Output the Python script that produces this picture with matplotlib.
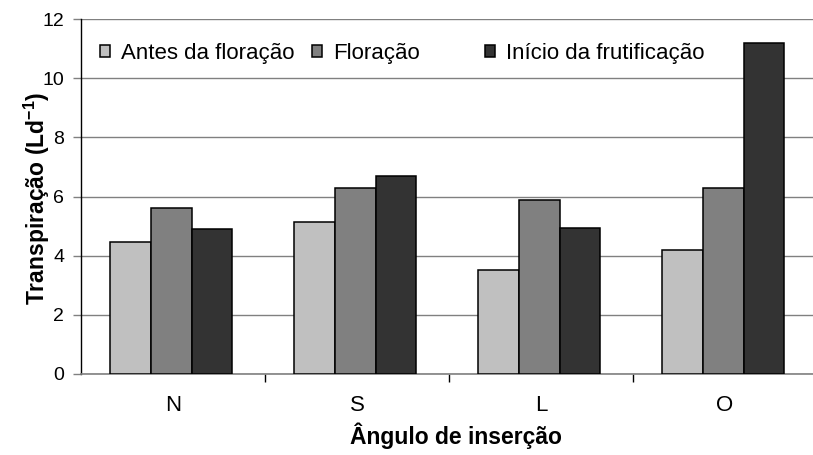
import matplotlib
matplotlib.use("Agg")
import matplotlib.pyplot as plt
import numpy as np
from matplotlib.ticker import FixedLocator, NullFormatter
from matplotlib.patches import Patch
from matplotlib.legend import Legend

plt.rcParams['font.family'] = ['Liberation Sans', 'DejaVu Sans']
plt.rcParams['mathtext.fontset'] = 'custom'
plt.rcParams['mathtext.bf'] = 'Liberation Sans:bold'
plt.rcParams['mathtext.rm'] = 'Liberation Sans'

categories = ['N', 'S', 'L', 'O']
series_names = ['Antes da floração', 'Floração', 'Início da frutificação']
antes = [4.46, 5.14, 3.53, 4.20]
floracao = [5.61, 6.29, 5.88, 6.29]
inicio = [4.89, 6.70, 4.94, 11.18]
yticks = [0, 2, 4, 6, 8, 10, 12]

colors = ['#c0c0c0', '#808080', '#333333']
series = [antes, floracao, inicio]

W, H = 813, 455
fig = plt.figure(figsize=(W / 100, H / 100), dpi=100)
ax = fig.add_axes([81 / W, 1 - 374 / H, (817 - 81) / W, (374 - 19) / H])

x = np.arange(len(categories))
w = 0.222
offsets = [-w, 0, w]
for vals, c, off, name in zip(series, colors, offsets, series_names):
    ax.bar(x + off - 0.01, vals, width=w, color=c, edgecolor='black',
           linewidth=1.1, label=name, zorder=3)

ax.set_xlim(-0.5, len(categories) - 0.5)
ax.set_ylim(0, 12)
ax.set_yticks(yticks)
ax.yaxis.grid(True, color='#808080', linewidth=1.0, zorder=0)
ax.set_axisbelow(True)

ax.set_xticks(x)
ax.set_xticklabels(categories, fontsize=16)
ax.xaxis.set_minor_locator(FixedLocator(np.arange(0.5, len(categories) - 0.5, 1.0)))
ax.xaxis.set_minor_formatter(NullFormatter())
ax.tick_params(axis='x', which='major', length=0, pad=15)
ax.tick_params(axis='x', which='minor', length=6, width=1, color='black', direction='out')
ax.tick_params(axis='y', length=6, width=1, color='#808080', labelsize=14, pad=6)

for s in ['top', 'right']:
    ax.spines[s].set_visible(False)
ax.spines['left'].set_color('black')
ax.spines['left'].set_linewidth(1.0)
ax.spines['bottom'].set_color('#808080')
ax.spines['bottom'].set_linewidth(1.2)

fig.text(37 / W, 1 - 198 / H, 'Transpiração (Ld$^{\\mathbf{-1}}$)', fontsize=16.5,
         fontweight='bold', rotation=90, ha='center', va='center')
fig.text(456 / W, 1 - 436 / H, 'Ângulo de inserção', fontsize=16.5,
         fontweight='bold', ha='center', va='center')

# Legend entries placed in equal-width slots like the original
legend_x = [100, 312, 485]
for name, c, lx in zip(series_names, colors, legend_x):
    h = Patch(facecolor=c, edgecolor='black', linewidth=1.1)
    lg = Legend(ax, [h], [name], loc='center left',
                bbox_to_anchor=((lx - 81) / 736, 1 - (53 - 19) / 355),
                frameon=False, fontsize=16, handlelength=0.45, handleheight=0.45,
                handletextpad=0.5, borderaxespad=0.0, borderpad=0.0)
    ax.add_artist(lg)

fig.savefig('out.png', dpi=100)
